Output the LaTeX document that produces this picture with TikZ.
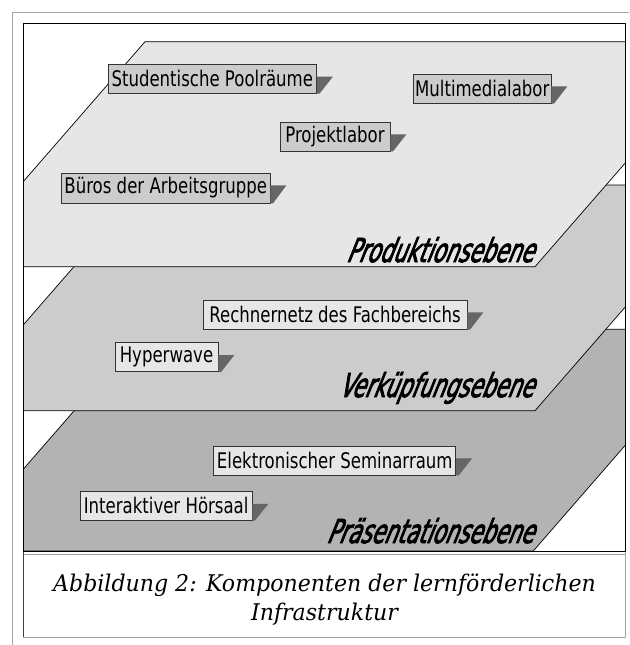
\documentclass[tikz,border=0pt]{standalone}
\usepackage{fontspec}
\usetikzlibrary{calc}
\newfontfamily\boxfont[FakeStretch=0.77]{DejaVu Sans}
\newfontfamily\layerfont[FakeStretch=0.63,FakeSlant=0.4,FakeBold=2.5]{DejaVu Sans}
\newfontfamily\capfont[FakeStretch=0.96]{DejaVu Serif}
\definecolor{planeA}{RGB}{230,230,230}
\definecolor{planeB}{RGB}{204,204,204}
\definecolor{planeC}{RGB}{179,179,179}
\definecolor{boxdark}{RGB}{204,204,204}
\definecolor{boxlight}{RGB}{230,230,230}
\definecolor{shadowc}{RGB}{102,102,102}
\definecolor{outerg}{RGB}{165,165,165}
\newcommand\mkshadow[1]{\fill[shadowc] ($(#1.north east)+(0,12.7)$) -- ++(16,0) -- ($(#1.south east)+(2.6,0)$) -- (#1.south east) -- cycle;}
\tikzset{
  lbox/.style={draw=black!80, line width=0.8pt, inner sep=0pt, text=black,
    font=\boxfont\fontsize{21.5}{22}\selectfont},
  plane/.style={draw=black, line width=0.7pt},
  layer/.style={anchor=base east, inner sep=0pt, text=black,
    font=\layerfont\fontsize{33}{33}\selectfont},
  captxt/.style={anchor=base, inner sep=0pt, text=black,
    font=\capfont\itshape\fontsize{23}{29}\selectfont}
}
\begin{document}
\begin{tikzpicture}[x=1pt,y=-1pt]
\useasboundingbox (0,0) rectangle (629,645);
\fill[white] (0,0) rectangle (629,645);
% outer gray lines
\draw[outerg, line width=0.8pt] (12,645) -- (12,12) -- (629,12);
% planes
\begin{scope}
\clip (23.3,23.3) rectangle (625.5,551.5);
\filldraw[plane, fill=planeC] (145,329.3) -- (726.2,329.3) -- (533.3,551) -- (-47.9,551) -- cycle;
\filldraw[plane, fill=planeB] (145,185) -- (731.4,185) -- (535,410.7) -- (-51.4,410.7) -- cycle;
\filldraw[plane, fill=planeA] (145,41.7) -- (730.8,41.7) -- (535,266.7) -- (-50.8,266.7) -- cycle;
\end{scope}
% frame
\draw[black, line width=1.1pt] (23.3,551.5) -- (23.3,23.3) -- (625.5,23.3) -- (625.5,551.5);
\draw[black, line width=0.9pt] (23.3,551.5) -- (625.5,551.5);
% caption box
\draw[outerg, line width=0.8pt] (23.3,554.3) -- (625.5,554.3);
\draw[outerg, line width=0.8pt] (23.3,637) -- (625.5,637) -- (625.5,551.5);
\draw[black!75, line width=1.1pt] (23.3,551.5) -- (23.3,637);
% boxes on plane 1
\node[lbox, fill=boxdark, minimum width=208.5pt, minimum height=29pt] (stud) at (212.25,78.8) {Studentische Poolräume};
\mkshadow{stud}
\node[lbox, fill=boxdark, minimum width=137.5pt, minimum height=29.3pt] (mult) at (482.25,88.65) {Multimedialabor};
\mkshadow{mult}
\node[lbox, fill=boxdark, minimum width=110pt, minimum height=29pt] (proj) at (335,136.5) {Projektlabor};
\mkshadow{proj}
\node[lbox, fill=boxdark, minimum width=208.5pt, minimum height=30pt] (buero) at (165.75,188) {Büros der Arbeitsgruppe};
\mkshadow{buero}
% boxes on plane 2
\node[lbox, fill=boxlight, minimum width=264pt, minimum height=29.3pt] (rech) at (335,314.65) {Rechnernetz des Fachbereichs};
\mkshadow{rech}
\node[lbox, fill=boxlight, minimum width=103pt, minimum height=29pt] (hyp) at (166.5,357.2) {Hyperwave};
\mkshadow{hyp}
% boxes on plane 3
\node[lbox, fill=boxlight, minimum width=242pt, minimum height=29pt] (elek) at (334.75,460.5) {Elektronischer Seminarraum};
\mkshadow{elek}
\node[lbox, fill=boxlight, minimum width=171.7pt, minimum height=28.5pt] (inter) at (166.15,505.85) {Interaktiver Hörsaal};
\mkshadow{inter}
% layer labels
\node[layer] (lp) at (533,262) {Produktionsebene};
\node[layer] (lv) at (533,397) {Verküpfungsebene};
\node[layer] (lpr) at (533,543) {Präsentationsebene};
% caption
\node[captxt] (cap1) at (324.5,591.7) {Abbildung 2: Komponenten der lernförderlichen};
\node[captxt] (cap2) at (324.5,620.5) {Infrastruktur};
\end{tikzpicture}
\end{document}
